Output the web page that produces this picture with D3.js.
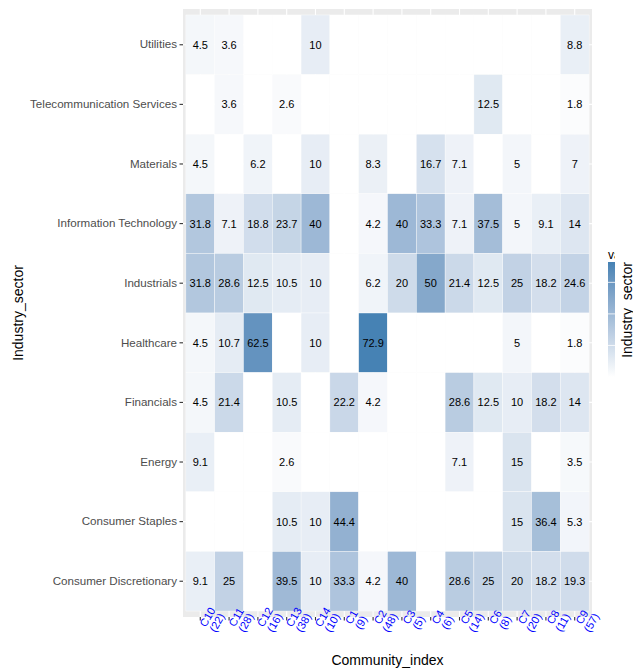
<!DOCTYPE html>
<html>
<head>
<meta charset="utf-8">
<script src="https://cdn.jsdelivr.net/npm/d3@7"></script>
<style>
  html, body { margin: 0; padding: 0; background: #fff; }
  svg { display: block; font-family: "Liberation Sans", Arial, Helvetica, sans-serif; }
</style>
</head>
<body>
<svg id="chart" width="633" height="671"></svg>
<script>
// ---- data ----
const communities = ["C10", "C11", "C12", "C13", "C14", "C1", "C2", "C3", "C4", "C5", "C6", "C7", "C8", "C9"];
const communitySizes = [22, 28, 16, 38, 10, 9, 48, 5, 6, 14, 8, 20, 11, 57];
const sectors = [
  "Utilities",
  "Telecommunication Services",
  "Materials",
  "Information Technology",
  "Industrials",
  "Healthcare",
  "Financials",
  "Energy",
  "Consumer Staples",
  "Consumer Discretionary"
];
// values per sector, in community order above (0 = none)
const utilities      = [4.5, 3.6, 0, 0, 10, 0, 0, 0, 0, 0, 0, 0, 0, 8.8];
const telecom        = [0, 3.6, 0, 2.6, 0, 0, 0, 0, 0, 0, 12.5, 0, 0, 1.8];
const materials      = [4.5, 0, 6.2, 0, 10, 0, 8.3, 0, 16.7, 7.1, 0, 5, 0, 7];
const infoTech       = [31.8, 7.1, 18.8, 23.7, 40, 0, 4.2, 40, 33.3, 7.1, 37.5, 5, 9.1, 14];
const industrials    = [31.8, 28.6, 12.5, 10.5, 10, 0, 6.2, 20, 50, 21.4, 12.5, 25, 18.2, 24.6];
const healthcare     = [4.5, 10.7, 62.5, 0, 10, 0, 72.9, 0, 0, 0, 0, 5, 0, 1.8];
const financials     = [4.5, 21.4, 0, 10.5, 0, 22.2, 4.2, 0, 0, 28.6, 12.5, 10, 18.2, 14];
const energy         = [9.1, 0, 0, 2.6, 0, 0, 0, 0, 0, 7.1, 0, 15, 0, 3.5];
const consStaples    = [0, 0, 0, 10.5, 10, 44.4, 0, 0, 0, 0, 0, 15, 36.4, 5.3];
const consDiscr      = [9.1, 25, 0, 39.5, 10, 33.3, 4.2, 40, 0, 28.6, 25, 20, 18.2, 19.3];
const legendBreaks   = [20, 40, 60];

const seriesBySector = {
  "Utilities": utilities,
  "Telecommunication Services": telecom,
  "Materials": materials,
  "Information Technology": infoTech,
  "Industrials": industrials,
  "Healthcare": healthcare,
  "Financials": financials,
  "Energy": energy,
  "Consumer Staples": consStaples,
  "Consumer Discretionary": consDiscr
};

const cells = [];
sectors.forEach(s => {
  seriesBySector[s].forEach((v, i) => cells.push({ sector: s, community: communities[i], value: v }));
});

// ---- layout ----
const svg = d3.select("#chart");
const panel = { x0: 183, x1: 592, y0: 9, y1: 617 };

const x = d3.scaleBand().domain(communities).range([panel.x0, panel.x1]).paddingInner(0).paddingOuter(0.1);
const y = d3.scaleBand().domain(sectors).range([panel.y0, panel.y1]).paddingInner(0).paddingOuter(0.1);

const maxV = d3.max(cells, d => d.value);
const color = d3.scaleLinear().domain([0, maxV]).range(["#FFFFFF", "#4682B4"]).interpolate(d3.interpolateLab);

// panel background
svg.append("rect")
  .attr("x", panel.x0).attr("y", panel.y0)
  .attr("width", panel.x1 - panel.x0).attr("height", panel.y1 - panel.y0)
  .attr("fill", "#EBEBEB");

// grid lines
const grid = svg.append("g");
grid.selectAll("line.v").data(communities).join("line")
  .attr("x1", d => x(d) + x.bandwidth() / 2).attr("x2", d => x(d) + x.bandwidth() / 2)
  .attr("y1", panel.y0).attr("y2", panel.y1)
  .attr("stroke", "#FFFFFF").attr("stroke-width", 1.1);
grid.selectAll("line.h").data(sectors).join("line")
  .attr("y1", d => y(d) + y.bandwidth() / 2).attr("y2", d => y(d) + y.bandwidth() / 2)
  .attr("x1", panel.x0).attr("x2", panel.x1)
  .attr("stroke", "#FFFFFF").attr("stroke-width", 1.1);

// tiles
svg.append("g").selectAll("rect").data(cells).join("rect")
  .attr("x", d => x(d.community)).attr("y", d => y(d.sector))
  .attr("width", x.bandwidth()).attr("height", y.bandwidth())
  .attr("fill", d => color(d.value))
  .attr("stroke", "#FFFFFF").attr("stroke-width", 0.4);

// labels in cells
svg.append("g").selectAll("text").data(cells.filter(d => d.value > 0)).join("text")
  .attr("x", d => x(d.community) + x.bandwidth() / 2)
  .attr("y", d => y(d.sector) + y.bandwidth() / 2)
  .attr("text-anchor", "middle").attr("dominant-baseline", "central")
  .attr("font-size", 11).attr("fill", "#000")
  .text(d => String(d.value));

// y axis
const yAxis = d3.axisLeft(y).tickSize(3.5).tickPadding(2.5);
const gy = svg.append("g").attr("transform", `translate(${panel.x0},0)`).call(yAxis);
gy.select(".domain").remove();
gy.selectAll(".tick line").attr("stroke", "#333333").attr("stroke-width", 1.1);
gy.selectAll(".tick text").attr("font-size", 11.6).attr("fill", "#4D4D4D")
  .attr("font-family", "Liberation Sans, Arial, sans-serif");

// x axis
const xAxis = d3.axisBottom(x).tickSize(3.5).tickFormat("");
const gx = svg.append("g").attr("transform", `translate(0,${panel.y1})`).call(xAxis);
gx.select(".domain").remove();
gx.selectAll(".tick line").attr("stroke", "#333333").attr("stroke-width", 1.1);

const xl = svg.append("g").selectAll("text").data(communities).join("text")
  .attr("transform", d => `translate(${x(d) + x.bandwidth() / 2 + 7},${panel.y1}) rotate(-60)`)
  .attr("text-anchor", "middle")
  .attr("font-size", 11).attr("fill", "#0000FF");
xl.append("tspan").attr("x", 0).attr("y", 0).attr("dominant-baseline", "central").text(d => d);
xl.append("tspan").attr("x", 0).attr("y", 11).attr("dominant-baseline", "central")
  .text((d, i) => `(${communitySizes[i]})`);

// axis titles
svg.append("text")
  .attr("x", (panel.x0 + panel.x1) / 2).attr("y", 665)
  .attr("text-anchor", "middle").attr("font-size", 14).attr("fill", "#000")
  .text("Community_index");
svg.append("text")
  .attr("transform", `translate(23,${(panel.y0 + panel.y1) / 2}) rotate(-90)`)
  .attr("text-anchor", "middle").attr("font-size", 14).attr("fill", "#000")
  .text("Industry_sector");

// legend (partially cut off at the right edge, as in the reference)
const legY = d3.scaleLinear().domain([0, maxV]).range([377, 262]);
const defs = svg.append("defs");
const grad = defs.append("linearGradient").attr("id", "lg").attr("x1", 0).attr("x2", 0).attr("y1", 1).attr("y2", 0);
d3.range(0, 1.0001, 0.1).forEach(t => {
  grad.append("stop").attr("offset", t).attr("stop-color", color(t * maxV));
});
defs.append("clipPath").attr("id", "legclip").append("rect")
  .attr("x", 600).attr("y", 240).attr("width", 15).attr("height", 30);

svg.append("rect")
  .attr("x", 608).attr("y", legY(maxV))
  .attr("width", 7).attr("height", legY(0) - legY(maxV))
  .attr("fill", "url(#lg)");
svg.append("g").selectAll("line").data(legendBreaks).join("line")
  .attr("x1", 608).attr("x2", 615)
  .attr("y1", d => legY(d)).attr("y2", d => legY(d))
  .attr("stroke", "#FFFFFF").attr("stroke-width", 0.8);
svg.append("text")
  .attr("x", 608).attr("y", 259)
  .attr("font-size", 12).attr("fill", "#000")
  .attr("clip-path", "url(#legclip)")
  .text("value");
svg.append("text")
  .attr("transform", `translate(632,310) rotate(-90)`)
  .attr("text-anchor", "middle").attr("font-size", 14).attr("fill", "#000")
  .text("Industry_sector");
</script>
</body>
</html>
